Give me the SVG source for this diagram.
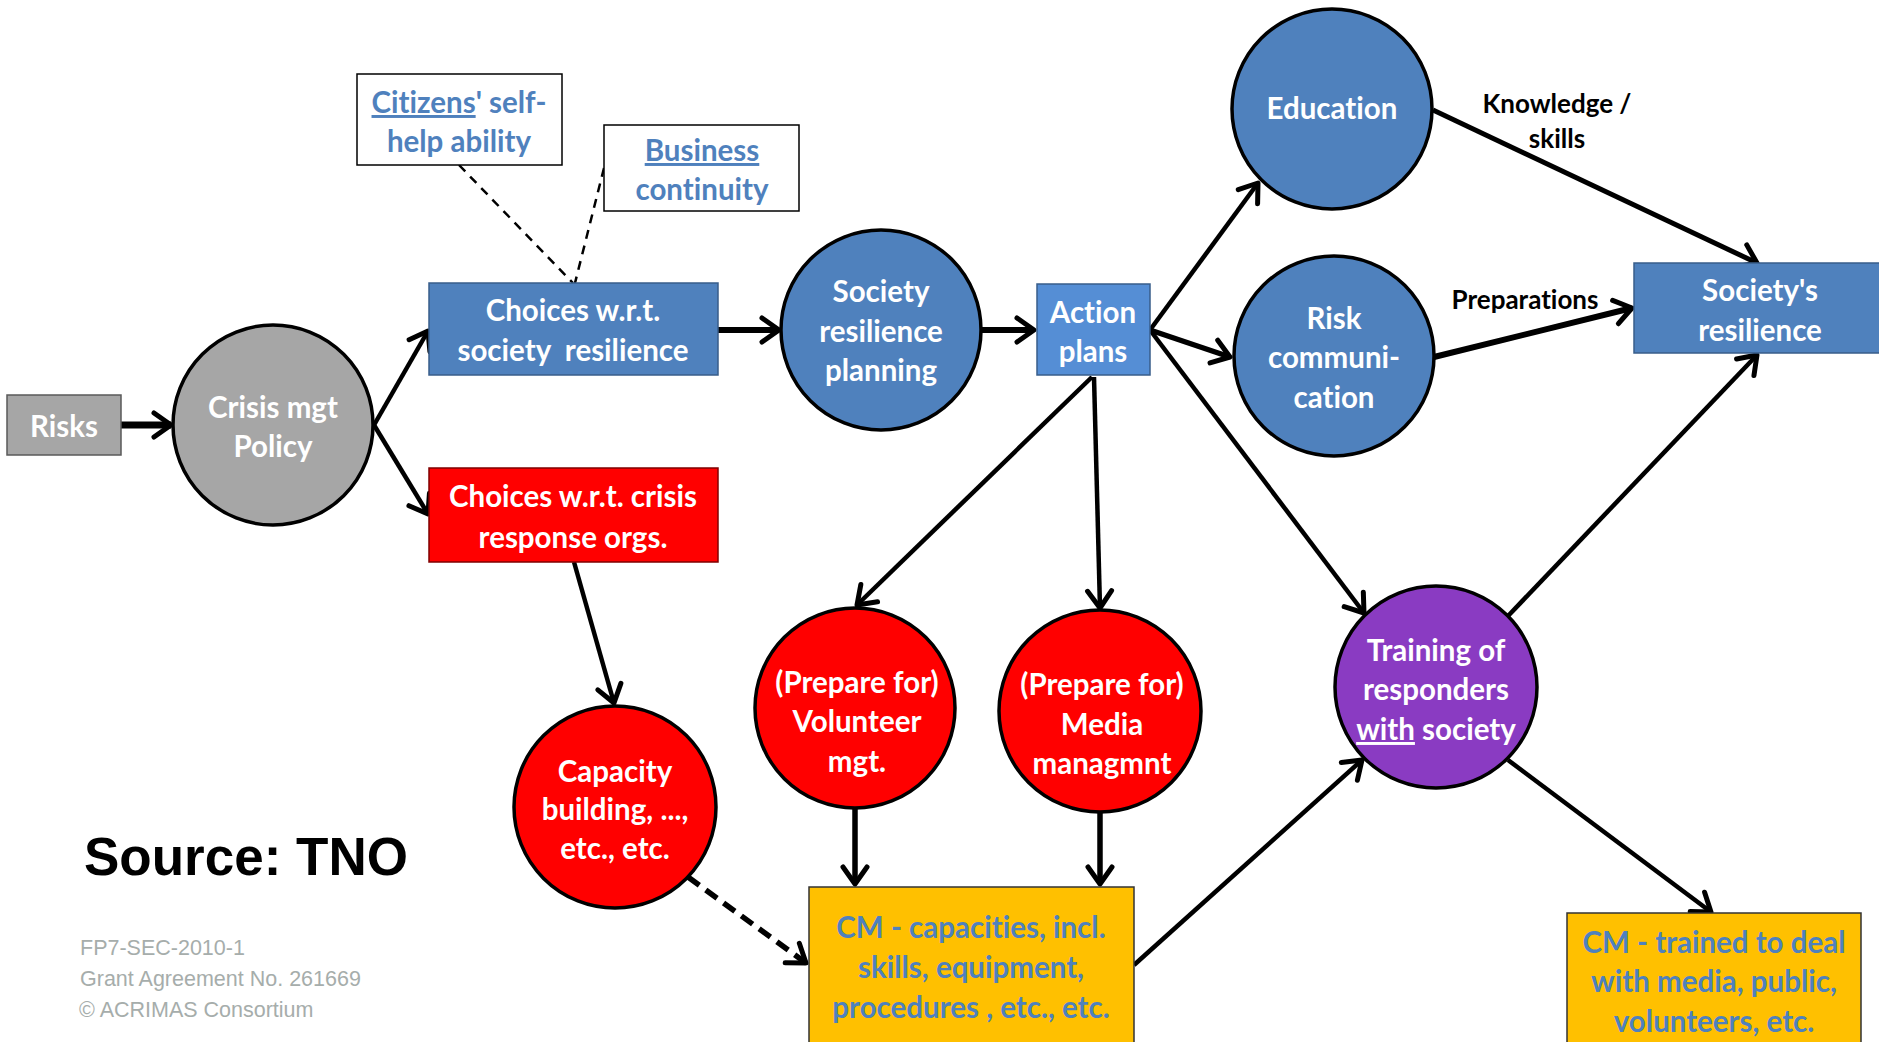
<svg xmlns="http://www.w3.org/2000/svg" width="1879" height="1042" viewBox="0 0 1879 1042">
<defs>
<marker id="arr" markerUnits="userSpaceOnUse" markerWidth="40" markerHeight="40" refX="0" refY="0" orient="auto" overflow="visible">
<polyline points="-17,-12 0,0 -17,12" fill="none" stroke="#000" stroke-width="5" stroke-linecap="round" stroke-linejoin="round"/>
</marker>
<style>
.t{font-family:Lato,"Liberation Sans",sans-serif;font-weight:bold;font-size:29.5px;text-anchor:middle;fill:#fff;font-variant-ligatures:none}
.tb{fill:#4F81BD}
.lbl{font-family:Lato,"Liberation Sans",sans-serif;font-weight:bold;font-size:26px;text-anchor:middle;fill:#000;font-variant-ligatures:none}
.c{stroke:#000;stroke-width:3.5}
.blue{fill:#4F81BD}
.red{fill:#FF0000}
.rb{fill:#4F81BD;stroke:#385D8A;stroke-width:1.5}
.rr{fill:#FF0000;stroke:#7F0000;stroke-width:1.5}
.ro{fill:#FFC000;stroke:#333;stroke-width:1.5}
.rw{fill:#fff;stroke:#000;stroke-width:1.5}
.e{fill:none;stroke:#000;stroke-width:4.5;marker-end:url(#arr)}
.d{fill:none;stroke:#000;stroke-width:2.5;stroke-dasharray:9 7}
.u{text-decoration:underline}
.foot{font-family:"Liberation Sans",Arial,sans-serif;font-size:21.5px;fill:#A6ADAB}
</style>
</defs>
<rect width="1879" height="1042" fill="#fff"/>

<g id="connectors">
<path class="e" d="M121,425 L171,425" style="stroke-width:7"/>
<path class="e" d="M374,425 L428,331"/>
<path class="e" d="M374,425 L428,514"/>
<path class="e" d="M718,330 L779,330" style="stroke-width:6"/>
<path class="e" d="M982,330 L1034,330" style="stroke-width:6"/>
<path class="e" d="M1150,330 L1258,183"/>
<path class="e" d="M1150,330 L1230,357" style="stroke-width:5.5"/>
<path class="e" d="M1150,330 L1364,613"/>
<path class="e" d="M1092,377 L857,605"/>
<path class="e" d="M1094,377 L1100,608"/>
<path class="e" d="M574,562 L614,703"/>
<path class="e" d="M855,808 L855,884" style="stroke-width:5.5"/>
<path class="e" d="M1100,813 L1100,884" style="stroke-width:5.5"/>
<path class="e" d="M688,877 L806,963" style="stroke-dasharray:14 8;stroke-width:5.5"/>
<path class="e" d="M1134,965 L1362,760"/>
<path class="e" d="M1508,616 L1757,355"/>
<path class="e" d="M1508,760 L1711,912"/>
<path class="e" d="M1433,110 L1757,263" style="stroke-width:5"/>
<path class="e" d="M1434,357 L1632,308" style="stroke-width:6"/>
<path class="d" d="M459,165 L573,283"/>
<path class="d" d="M604,168 L575,283"/>
<text class="lbl" x="1557" y="113">Knowledge /</text>
<text class="lbl" x="1557" y="148">skills</text>
<text class="lbl" x="1525" y="309">Preparations</text>
</g>

<g id="risks">
<rect x="7" y="395" width="114" height="60" fill="#A6A6A6" stroke="#595959" stroke-width="1.5"/>
<text class="t" x="64" y="437">Risks</text>
</g>

<g id="crisis-policy">
<circle class="c" cx="273" cy="425" r="100" fill="#A6A6A6"/>
<text class="t" x="273" y="418">Crisis mgt</text>
<text class="t" x="273" y="457">Policy</text>
</g>

<g id="choices-society">
<rect class="rb" x="429" y="283" width="289" height="92"/>
<text class="t" x="573" y="321">Choices w.r.t.</text>
<text class="t" x="573" y="361" xml:space="preserve">society  resilience</text>
</g>

<g id="choices-crisis">
<rect class="rr" x="429" y="468" width="289" height="94"/>
<text class="t" x="573" y="507">Choices w.r.t. crisis</text>
<text class="t" x="573" y="548">response orgs.</text>
</g>

<g id="citizens">
<rect class="rw" x="357" y="74" width="205" height="91"/>
<text class="t tb" x="459" y="113"><tspan class="u">Citizens</tspan>' self-</text>
<text class="t tb" x="459" y="152">help ability</text>
</g>

<g id="business">
<rect class="rw" x="604" y="125" width="195" height="86"/>
<text class="t tb u" x="702" y="161">Business</text>
<text class="t tb" x="702" y="200">continuity</text>
</g>

<g id="society-planning">
<circle class="c blue" cx="881" cy="330" r="100"/>
<text class="t" x="881" y="302">Society</text>
<text class="t" x="881" y="342">resilience</text>
<text class="t" x="881" y="381">planning</text>
</g>

<g id="action-plans">
<rect x="1037" y="284" width="113" height="91" fill="#558ED5" stroke="#385D8A" stroke-width="1.5"/>
<text class="t" x="1093" y="323">Action</text>
<text class="t" x="1093" y="362">plans</text>
</g>

<g id="education">
<circle class="c blue" cx="1332" cy="109" r="100"/>
<text class="t" x="1332" y="119">Education</text>
</g>

<g id="risk-communication">
<circle class="c blue" cx="1334" cy="356" r="100"/>
<text class="t" x="1334" y="329">Risk</text>
<text class="t" x="1334" y="368">communi-</text>
<text class="t" x="1334" y="408">cation</text>
</g>

<g id="societys-resilience">
<rect class="rb" x="1634" y="263" width="252" height="90"/>
<text class="t" x="1760" y="301">Society's</text>
<text class="t" x="1760" y="341">resilience</text>
</g>

<g id="training">
<circle class="c" cx="1436" cy="687" r="101" fill="#8A3BC2"/>
<text class="t" x="1436" y="661">Training of</text>
<text class="t" x="1436" y="700">responders</text>
<text class="t" x="1436" y="740"><tspan class="u">with</tspan> society</text>
</g>

<g id="capacity-building">
<circle class="c red" cx="615" cy="807" r="101"/>
<text class="t" x="615" y="782">Capacity</text>
<text class="t" x="615" y="820">building, ...,</text>
<text class="t" x="615" y="859">etc., etc.</text>
</g>

<g id="volunteer">
<circle class="c red" cx="855" cy="708" r="100"/>
<text class="t" x="857" y="693">(Prepare for)</text>
<text class="t" x="857" y="732">Volunteer</text>
<text class="t" x="857" y="772">mgt.</text>
</g>

<g id="media">
<circle class="c red" cx="1100" cy="711" r="101"/>
<text class="t" x="1102" y="695">(Prepare for)</text>
<text class="t" x="1102" y="735">Media</text>
<text class="t" x="1102" y="774">managmnt</text>
</g>

<g id="cm-capacities">
<rect class="ro" x="809" y="887" width="325" height="180"/>
<text class="t tb" x="971" y="938">CM - capacities, incl.</text>
<text class="t tb" x="971" y="978">skills, equipment,</text>
<text class="t tb" x="971" y="1018">procedures , etc., etc.</text>
</g>

<g id="cm-trained">
<rect class="ro" x="1567" y="913" width="294" height="160"/>
<text class="t tb" x="1714" y="953">CM - trained to deal</text>
<text class="t tb" x="1714" y="992">with media, public,</text>
<text class="t tb" x="1714" y="1032">volunteers, etc.</text>
</g>

<g id="footer">
<text x="84" y="875" font-family="Liberation Sans, Arial, sans-serif" font-weight="bold" font-size="53" fill="#000">Source: TNO</text>
<text class="foot" x="80" y="955">FP7-SEC-2010-1</text>
<text class="foot" x="80" y="986">Grant Agreement No. 261669</text>
<text class="foot" x="79" y="1017">© ACRIMAS Consortium</text>
</g>
</svg>
